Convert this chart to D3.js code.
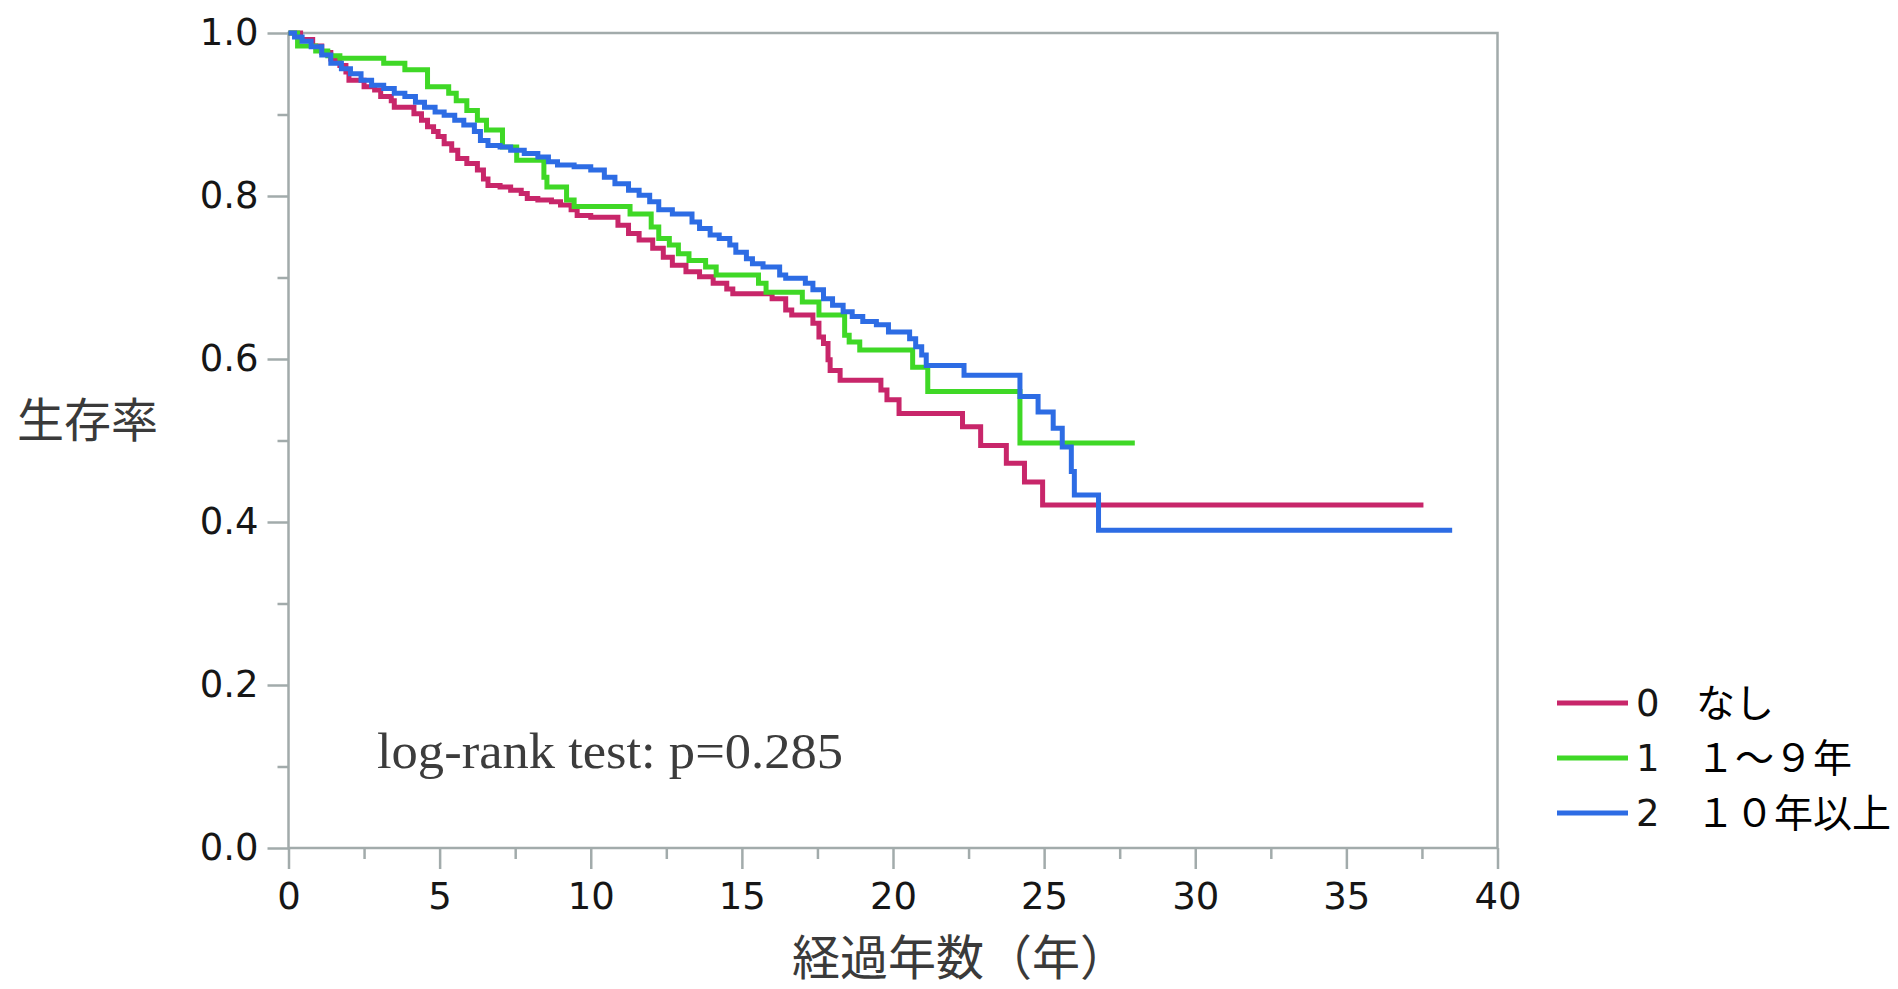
<!DOCTYPE html>
<html>
<head>
<meta charset="utf-8">
<script src="https://cdn.jsdelivr.net/npm/d3@7"></script>
<style>
  html, body { margin: 0; padding: 0; background: #ffffff; }
  svg { display: block; }
</style>
</head>
<body>
<svg id="chart" width="1898" height="989"></svg>
<script>
// ---- data ----
const seriesKeys = ["0", "1", "2"];
const seriesNames = ["なし", "１～９年", "１０年以上"];
const seriesColors = ["#c8266a", "#3fd826", "#2d6ce4"];

// [time (years), survival] – step-after Kaplan–Meier points
const curve0 = [
  [0,1.0],[0.4,0.992],[0.8,0.984],[1.1,0.976],[1.4,0.968],[1.7,0.96],[1.9,0.952],[2.0,0.942],
  [2.5,0.934],[2.85,0.930],[3.05,0.922],[3.4,0.917],[3.5,0.909],[4.15,0.901],[4.4,0.893],
  [4.6,0.885],[4.8,0.879],[4.95,0.873],[5.15,0.864],[5.4,0.856],[5.6,0.846],[5.9,0.840],
  [6.25,0.832],[6.45,0.821],[6.6,0.813],[7.0,0.811],[7.35,0.807],[7.7,0.803],[7.9,0.797],
  [8.25,0.795],[8.7,0.793],[9.0,0.789],[9.35,0.783],[9.55,0.776],[10.0,0.774],[10.9,0.764],
  [11.25,0.754],[11.6,0.746],[12.05,0.736],[12.4,0.725],[12.7,0.715],[13.15,0.707],[13.6,0.701],
  [14.05,0.693],[14.5,0.686],[14.7,0.680],[16.0,0.674],[16.45,0.660],[16.65,0.654],[17.35,0.644],
  [17.55,0.627],[17.7,0.619],[17.85,0.599],[17.92,0.586],[18.25,0.574],[19.6,0.562],[19.8,0.550],
  [20.2,0.533],[22.3,0.517],[22.9,0.494],[23.75,0.472],[24.35,0.449],[24.95,0.421]
];
const curve1 = [
  [0,1.0],[0.3,0.984],[0.9,0.978],[1.3,0.972],[1.7,0.969],[3.15,0.963],[3.85,0.955],[4.6,0.934],
  [5.3,0.926],[5.55,0.917],[5.9,0.905],[6.25,0.893],[6.55,0.881],[7.08,0.860],[7.55,0.844],
  [8.45,0.823],[8.55,0.811],[9.2,0.795],[9.45,0.787],[11.3,0.778],[12.0,0.762],[12.25,0.748],
  [12.6,0.740],[12.9,0.729],[13.25,0.721],[13.8,0.713],[14.15,0.703],[15.55,0.693],[15.8,0.682],
  [17.0,0.670],[17.55,0.654],[18.4,0.629],[18.55,0.621],[18.9,0.611],[20.65,0.590],[21.15,0.560],
  [24.2,0.497]
];
const curve2 = [
  [0,1.0],[0.2,0.995],[0.45,0.990],[0.75,0.983],[1.1,0.973],[1.4,0.963],[1.75,0.956],[2.05,0.950],
  [2.4,0.942],[2.75,0.936],[3.15,0.932],[3.5,0.926],[3.85,0.922],[4.2,0.915],[4.5,0.909],
  [4.85,0.903],[5.15,0.899],[5.5,0.893],[5.8,0.887],[6.15,0.879],[6.35,0.868],[6.6,0.862],
  [7.0,0.860],[7.35,0.856],[7.8,0.852],[8.25,0.848],[8.6,0.842],[8.9,0.838],[9.45,0.836],
  [10.0,0.832],[10.45,0.823],[10.8,0.815],[11.25,0.807],[11.6,0.801],[11.95,0.793],[12.25,0.783],
  [12.7,0.778],[13.35,0.768],[13.6,0.760],[13.95,0.752],[14.25,0.748],[14.6,0.740],[14.8,0.731],
  [15.15,0.723],[15.35,0.717],[15.7,0.713],[16.25,0.703],[16.45,0.699],[17.1,0.693],[17.35,0.685],
  [17.7,0.674],[18.0,0.666],[18.35,0.658],[18.65,0.652],[19.0,0.646],[19.45,0.642],[19.85,0.633],
  [20.55,0.625],[20.75,0.615],[20.95,0.605],[21.1,0.592],[22.35,0.580],[24.2,0.554],[24.8,0.535],
  [25.3,0.515],[25.6,0.492],[25.9,0.462],[26.0,0.433],[26.8,0.390]
];
const endTimes = [37.55, 28.0, 38.5];

const xTicks = [0, 5, 10, 15, 20, 25, 30, 35, 40];
const xMinorTicks = [2.5, 7.5, 12.5, 17.5, 22.5, 27.5, 32.5, 37.5];
const yTicks = [0.0, 0.2, 0.4, 0.6, 0.8, 1.0];
const yMinorTicks = [0.1, 0.3, 0.5, 0.7, 0.9];

const xTitle = "経過年数（年）";
const yTitle = "生存率";
const noteText = "log-rank test: p=0.285";

// ---- drawing ----
const svg = d3.select("#chart");
const axisColor = "#a2abab";
const x = d3.scaleLinear().domain([0, 40]).range([288.5, 1497.5]);
const y = d3.scaleLinear().domain([0, 1]).range([848, 33]);

// frame
svg.append("rect")
  .attr("x", x(0)).attr("y", y(1))
  .attr("width", x(40) - x(0)).attr("height", y(0) - y(1))
  .attr("fill", "none").attr("stroke", axisColor).attr("stroke-width", 2.5);

const tickFont = "'DejaVu Sans', Verdana, sans-serif";

function styleAxis(g) {
  g.select(".domain").remove();
  g.selectAll(".tick line").attr("stroke", axisColor).attr("stroke-width", 2.5);
  g.selectAll(".tick text").attr("fill", "#161616")
    .style("font-family", tickFont).style("font-size", "37px");
}

// x axis
svg.append("g").attr("transform", `translate(0,${y(0)})`)
  .call(d3.axisBottom(x).tickValues(xTicks).tickFormat(d3.format("d")).tickSize(21).tickPadding(14))
  .call(styleAxis);
svg.append("g").attr("transform", `translate(0,${y(0)})`)
  .call(d3.axisBottom(x).tickValues(xMinorTicks).tickFormat("").tickSize(11))
  .call(styleAxis);

// y axis
svg.append("g").attr("transform", `translate(${x(0)},0)`)
  .call(d3.axisLeft(y).tickValues(yTicks).tickFormat(d3.format(".1f")).tickSize(21).tickPadding(9))
  .call(styleAxis);
svg.append("g").attr("transform", `translate(${x(0)},0)`)
  .call(d3.axisLeft(y).tickValues(yMinorTicks).tickFormat("").tickSize(11))
  .call(styleAxis);

// curves
const line = d3.line().x(d => x(d[0])).y(d => y(d[1])).curve(d3.curveStepAfter);
const curves = [curve0, curve1, curve2];
curves.forEach((c, i) => {
  const pts = c.concat([[endTimes[i], c[c.length - 1][1]]]);
  svg.append("path").datum(pts)
    .attr("d", line)
    .attr("fill", "none")
    .attr("stroke", seriesColors[i])
    .attr("stroke-width", 5)
    .attr("stroke-linejoin", "miter")
    .attr("stroke-linecap", "butt");
});

// annotation
svg.append("text")
  .attr("x", 377).attr("y", 768)
  .attr("fill", "#3c3c3c")
  .attr("textLength", 466)
  .attr("lengthAdjust", "spacingAndGlyphs")
  .style("font-family", "'Liberation Serif', 'Times New Roman', serif")
  .style("font-size", "51px")
  .text(noteText);

// axis titles
svg.append("text")
  .attr("x", 792).attr("y", 975)
  .attr("fill", "#3a3a3a")
  .style("font-family", "'Noto Sans CJK JP', sans-serif")
  .style("font-size", "48px")
  .text(xTitle);
svg.append("text")
  .attr("x", 17).attr("y", 437)
  .attr("fill", "#3a3a3a")
  .style("font-family", "'Noto Sans CJK JP', sans-serif")
  .style("font-size", "47px")
  .text(yTitle);

// legend
const legendY = d3.scalePoint().domain(seriesKeys).range([703, 813]);
const lg = svg.append("g");
seriesKeys.forEach((k, i) => {
  const yy = legendY(k);
  lg.append("line")
    .attr("x1", 1557).attr("x2", 1628).attr("y1", yy).attr("y2", yy)
    .attr("stroke", seriesColors[i]).attr("stroke-width", 5);
  lg.append("text")
    .attr("x", 1636).attr("y", yy + 13)
    .attr("fill", "#161616")
    .style("font-family", tickFont).style("font-size", "37px")
    .text(k);
  lg.append("text")
    .attr("x", 1696).attr("y", yy + 14)
    .attr("fill", "#000000")
    .style("font-family", "'Noto Sans CJK JP', sans-serif").style("font-size", "39px")
    .text(seriesNames[i]);
});
</script>
</body>
</html>
